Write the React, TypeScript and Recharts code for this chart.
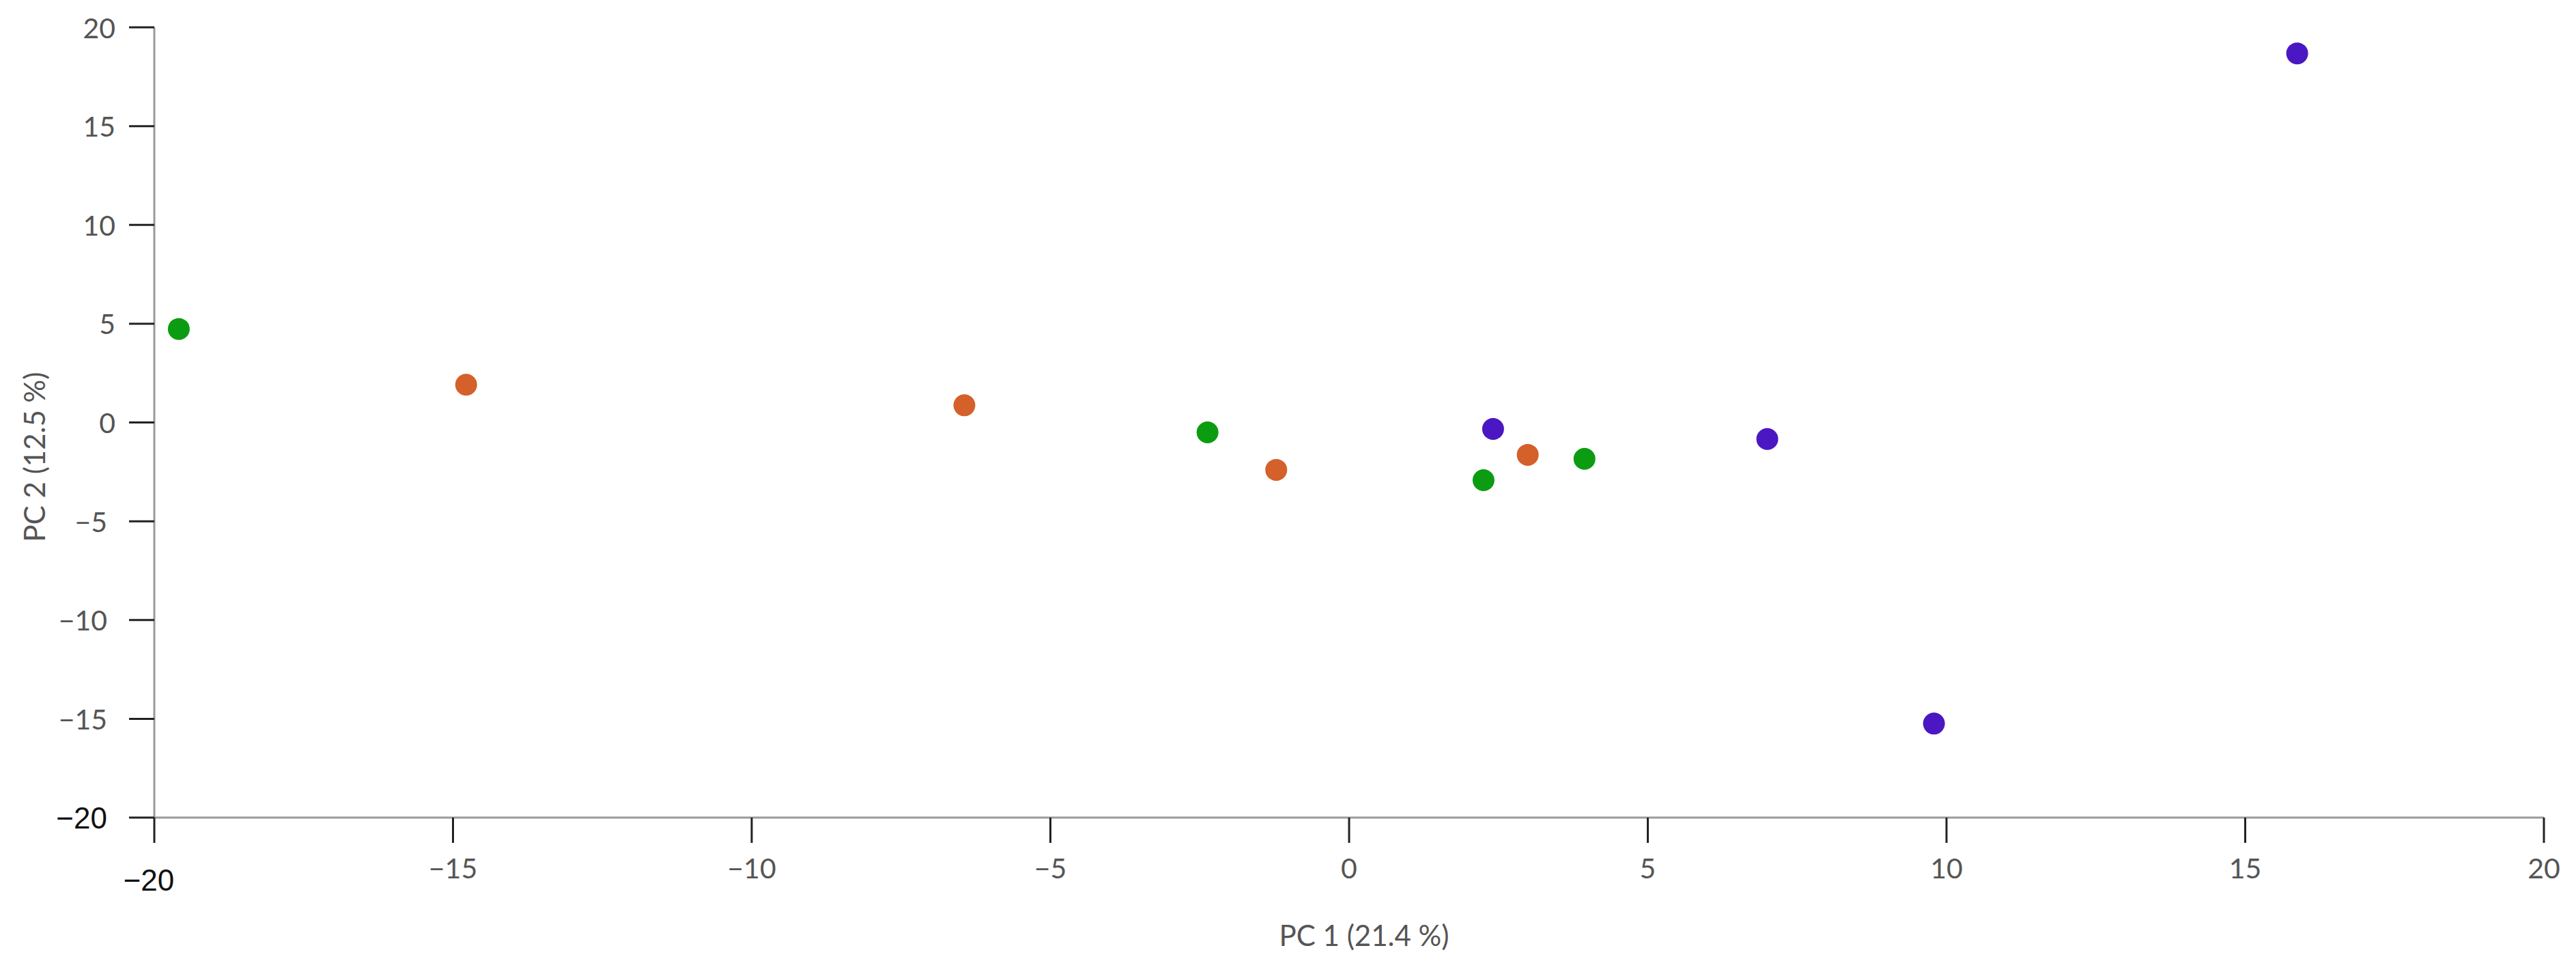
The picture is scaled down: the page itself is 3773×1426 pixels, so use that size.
import { ScatterChart, Scatter, XAxis, YAxis } from 'recharts'

const axisTicks = [-20, -15, -10, -5, 0, 5, 10, 15, 20]

const greenX = [-19.59, -2.37, 2.25, 3.94]
const greenY = [4.73, -0.5, -2.92, -1.84]

const orangeX = [-14.78, -6.44, -1.22, 2.99]
const orangeY = [1.91, 0.87, -2.4, -1.64]

const purpleX = [2.41, 7.0, 9.79, 15.87]
const purpleY = [-0.33, -0.84, -15.24, 18.68]

const toPoints = (xs: number[], ys: number[]) => xs.map((x, i) => ({ x, y: ys[i] }))

const labelFont = 'Lato, "DejaVu Sans", sans-serif'

const dot = (color: string) => (props: any) => (
  <circle cx={props.cx} cy={props.cy} r={16} fill={color} />
)

const XTick = (props: any) => {
  const { x, y, payload } = props
  if (payload.value === -20) {
    return (
      <text x={x - 8} y={y + 52} textAnchor="middle" dominantBaseline="central"
        fontSize={44} fontFamily='"Liberation Sans", Arial, sans-serif' fill="#111">
        {'\u221220'}
      </text>
    )
  }
  return (
    <text x={x} y={y + 34} textAnchor="middle" dominantBaseline="central"
      fontSize={41} fontFamily={labelFont} fill="#555">
      {payload.value < 0 ? `\u2212${-payload.value}` : payload.value}
    </text>
  )
}

const YTick = (props: any) => {
  const { y, payload } = props
  if (payload.value === -20) {
    return (
      <text x={157} y={y} textAnchor="end" dominantBaseline="central"
        fontSize={44} fontFamily='"Liberation Sans", Arial, sans-serif' fill="#111">
        {'\u221220'}
      </text>
    )
  }
  const right = payload.value < 0 ? 157 : 169
  return (
    <text x={right} y={y} textAnchor="end" dominantBaseline="central"
      fontSize={41} fontFamily={labelFont} fill="#555">
      {payload.value < 0 ? `\u2212${-payload.value}` : payload.value}
    </text>
  )
}

// y title sits a bit below the plot centre in the original
const YTitle = () => (
  <text transform="translate(50,669) rotate(-90)" textAnchor="middle" dominantBaseline="central"
    fontSize={42} fontFamily={labelFont} fill="#555">
    PC 2 (12.5 %)
  </text>
)

export default function App() {
  return (
    <div style={{ position: 'absolute', left: 0, top: 0, background: '#fff' }}>
      <ScatterChart width={3773} height={1426} margin={{ top: 40, right: 47, left: 0, bottom: 0 }}>
        <XAxis
          type="number"
          dataKey="x"
          domain={[-20, 20]}
          ticks={axisTicks}
          height={229}
          tickSize={37}
          axisLine={{ stroke: '#9a9a9a', strokeWidth: 3 }}
          tickLine={{ stroke: '#222', strokeWidth: 3 }}
          tick={<XTick />}
          label={{ value: 'PC 1 (21.4 %)', position: 'insideTop', offset: 158, fontSize: 42, fontFamily: labelFont, fill: '#555', dx: 22 }}
        />
        <YAxis
          type="number"
          dataKey="y"
          domain={[-20, 20]}
          ticks={axisTicks}
          width={226}
          tickSize={37}
          axisLine={{ stroke: '#9a9a9a', strokeWidth: 3 }}
          tickLine={{ stroke: '#222', strokeWidth: 3 }}
          tick={<YTick />}
          label={{ content: <YTitle /> }}
        />
        <Scatter data={toPoints(greenX, greenY)} fill="#0c9c12" shape={dot('#0c9c12')} isAnimationActive={false} />
        <Scatter data={toPoints(orangeX, orangeY)} fill="#d4602a" shape={dot('#d4602a')} isAnimationActive={false} />
        <Scatter data={toPoints(purpleX, purpleY)} fill="#4b17c2" shape={dot('#4b17c2')} isAnimationActive={false} />
      </ScatterChart>
    </div>
  )
}
